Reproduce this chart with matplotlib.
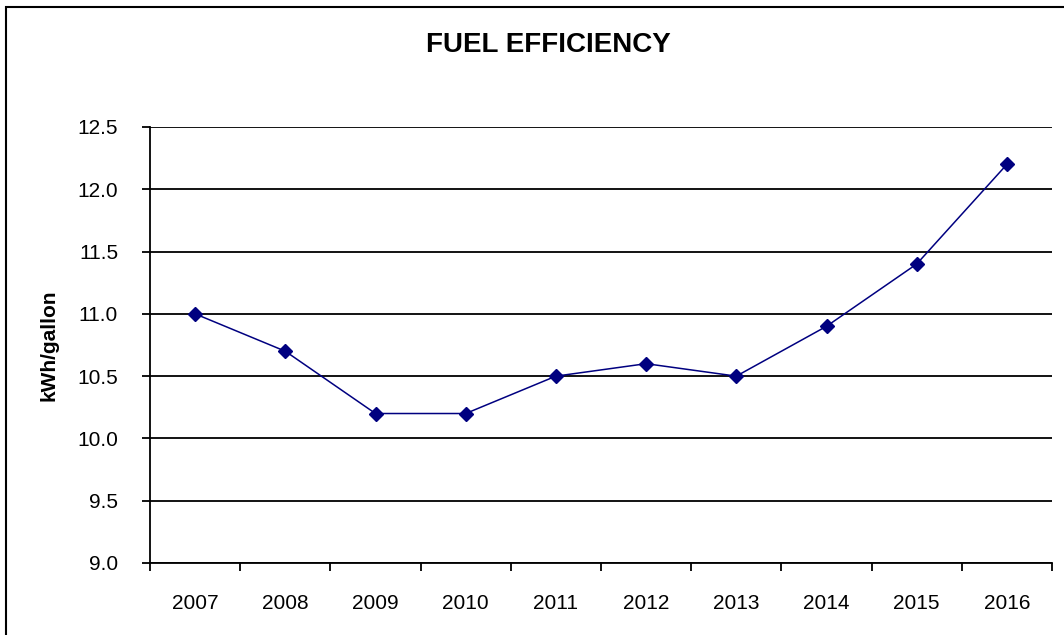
import matplotlib.pyplot as plt
from matplotlib.patches import Rectangle
from matplotlib.ticker import FixedLocator

plt.rcParams["font.family"] = ["Liberation Sans", "DejaVu Sans"]

# Data
years = ["2007", "2008", "2009", "2010", "2011", "2012", "2013", "2014", "2015", "2016"]
efficiency = [11.0, 10.7, 10.2, 10.2, 10.5, 10.6, 10.5, 10.9, 11.4, 12.2]
y_ticks = [9.0, 9.5, 10.0, 10.5, 11.0, 11.5, 12.0, 12.5]

W, H = 1064, 635
fig = plt.figure(figsize=(W / 100, H / 100), dpi=100)

# Chart border (runs off the right/bottom edge, as in the original)
fig.patches.append(
    Rectangle((5.5 / W, -0.1), 1.2, 1 - 6.5 / H + 0.1,
              transform=fig.transFigure, fill=False,
              edgecolor="black", linewidth=1.5)
)

ax = fig.add_axes([150 / W, 72 / H, 902 / W, 436 / H])

x = list(range(len(years)))
ax.plot(x, efficiency, color="#000080", linewidth=1.1,
        marker="D", markersize=7, markerfacecolor="#000080",
        markeredgecolor="#000080", zorder=3)

ax.set_xlim(-0.5, len(years) - 0.5)
ax.set_ylim(9.0, 12.5)

# y axis
ax.set_yticks(y_ticks)
ax.set_yticklabels([f"{v:.1f}" for v in y_ticks])
ax.yaxis.grid(True, color="black", linewidth=1.3)
ax.tick_params(axis="y", length=6, width=1.3, pad=17, labelsize=15)

# x axis: labels at category centres, ticks at category boundaries
ax.set_xticks(x)
ax.set_xticklabels(years)
ax.tick_params(axis="x", which="major", length=0, pad=22, labelsize=15)
ax.xaxis.set_minor_locator(FixedLocator([i - 0.5 for i in range(len(years) + 1)]))
ax.tick_params(axis="x", which="minor", length=6, width=1.3)

for side in ["top", "right"]:
    ax.spines[side].set_visible(False)
for side in ["left", "bottom"]:
    ax.spines[side].set_linewidth(1.3)
ax.set_axisbelow(True)

ax.set_ylabel("kWh/gallon", fontsize=15, fontweight="bold")
ax.yaxis.set_label_coords(-92 / 902, 0.5)

fig.text(548 / W, 1 - 45 / H, "FUEL EFFICIENCY", fontsize=20, fontweight="bold",
         ha="center", va="center")

fig.savefig("out.png", dpi=100)
